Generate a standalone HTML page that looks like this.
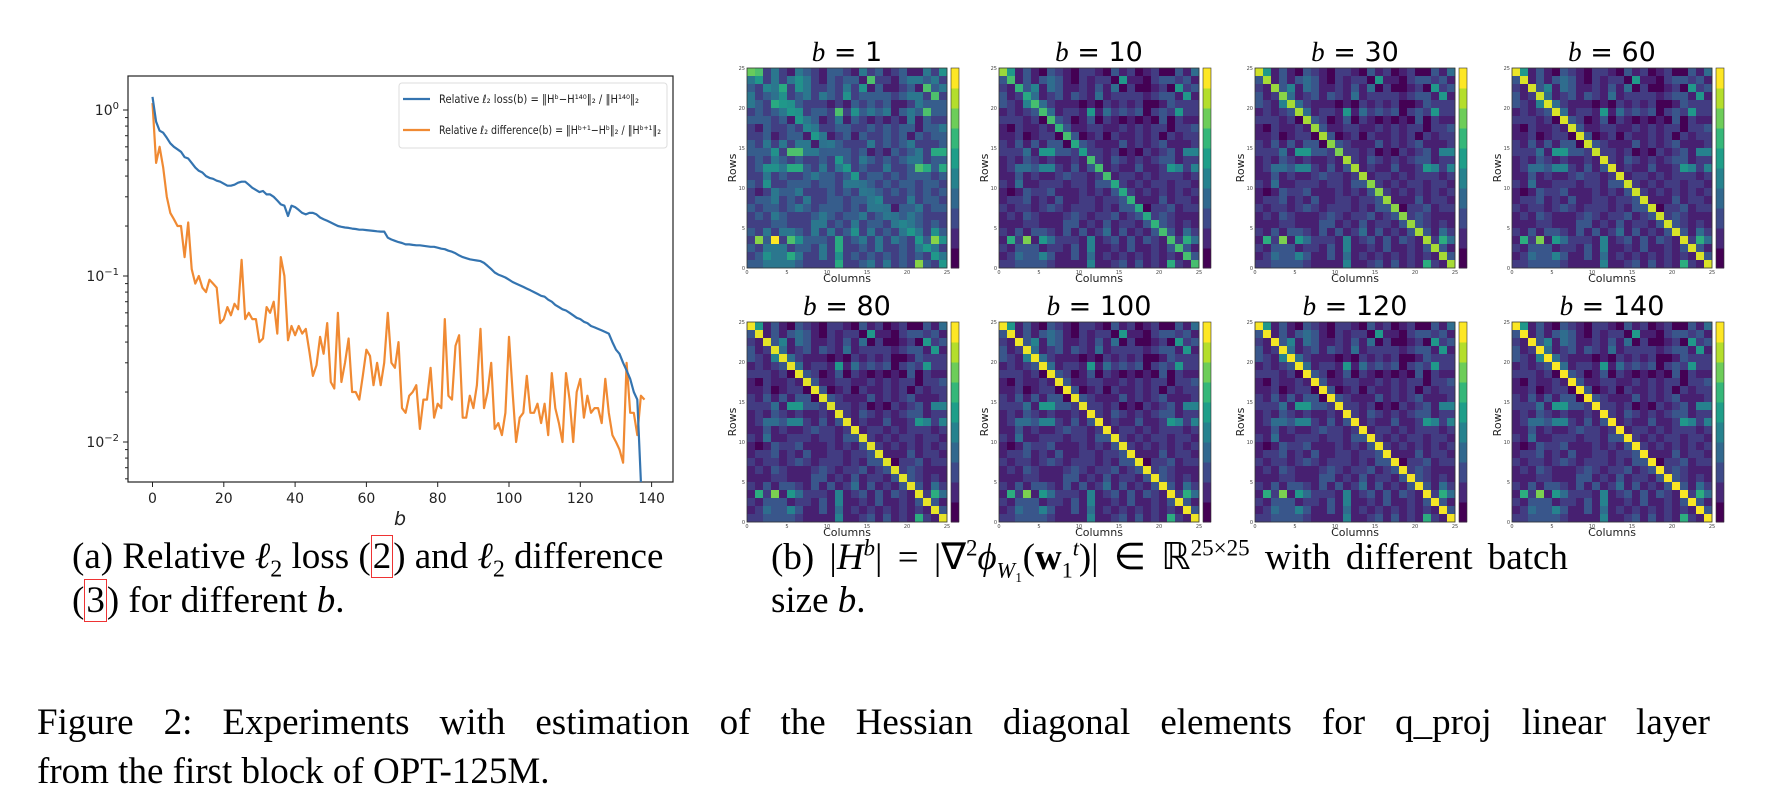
<!DOCTYPE html>
<html><head><meta charset="utf-8"><style>
body{margin:0;background:#fff;width:1772px;height:806px;position:relative;overflow:hidden;font-family:"Liberation Serif",serif;}
.cap{position:absolute;font-size:37px;color:#000;white-space:nowrap;}
svg text{font-family:"DejaVu Sans","Liberation Sans",sans-serif;}
.ref{border:1px solid #e33;padding:0 1px;}
</style></head><body>
<svg id="chart" width="1772" height="806" style="position:absolute;left:0;top:0"></svg>

<div class="cap" style="left:72px;top:535px;">(a) Relative <i>ℓ</i><sub style="font-size:24px">2</sub> loss (<span class="ref">2</span>) and <i>ℓ</i><sub style="font-size:24px">2</sub> difference</div>
<div class="cap" style="left:72px;top:579px;">(<span class="ref">3</span>) for different <i>b</i>.</div>
<div class="cap" style="left:771px;top:535px;word-spacing:6px">(b) |<i>H</i><sup style="font-size:23px"><i>b</i></sup>| = |∇<sup style="font-size:23px">2</sup><i>ϕ</i><sub style="font-size:22px"><i>W</i>₁</sub>(<b>w</b><sub style="font-size:22px">1</sub><sup style="font-size:22px"><i>t</i></sup>)| ∈ ℝ<sup style="font-size:23px">25×25</sup> with different batch</div>
<div class="cap" style="left:771px;top:579px;">size <i>b</i>.</div>
<div class="cap" style="left:37px;top:701px;width:1673px;text-align:justify;text-align-last:justify;white-space:normal">Figure 2: Experiments with estimation of the Hessian diagonal elements for q_proj linear layer</div>
<div class="cap" style="left:37px;top:750px;">from the first block of OPT-125M.</div>

<script>
const bVals=[];for(let i=0;i<=138;i++)bVals.push(i);
const lossVals=[1.2,0.85,0.75,0.73,0.68,0.63,0.6,0.58,0.56,0.52,0.51,0.48,0.45,0.43,0.42,0.4,0.39,0.385,0.375,0.37,0.36,0.35,0.35,0.355,0.365,0.37,0.37,0.355,0.34,0.33,0.32,0.325,0.31,0.31,0.3,0.285,0.27,0.265,0.23,0.265,0.26,0.25,0.24,0.235,0.24,0.24,0.235,0.225,0.22,0.215,0.21,0.205,0.2,0.198,0.196,0.195,0.193,0.192,0.19,0.19,0.189,0.188,0.187,0.186,0.185,0.185,0.17,0.166,0.163,0.16,0.158,0.155,0.155,0.154,0.153,0.153,0.152,0.151,0.15,0.15,0.148,0.146,0.145,0.142,0.14,0.137,0.133,0.13,0.128,0.126,0.125,0.124,0.123,0.12,0.115,0.11,0.105,0.102,0.1,0.098,0.095,0.092,0.09,0.088,0.086,0.084,0.082,0.08,0.078,0.076,0.075,0.072,0.07,0.067,0.065,0.063,0.062,0.06,0.058,0.056,0.055,0.053,0.052,0.05,0.049,0.048,0.047,0.046,0.045,0.04,0.036,0.034,0.03,0.027,0.024,0.02,0.018,0.0057];
const diffVals=[1.1,0.48,0.6,0.45,0.3,0.24,0.22,0.2,0.2,0.13,0.21,0.11,0.09,0.1,0.085,0.08,0.095,0.09,0.085,0.052,0.055,0.065,0.058,0.068,0.063,0.125,0.055,0.06,0.055,0.055,0.04,0.042,0.065,0.06,0.07,0.045,0.13,0.1,0.041,0.05,0.044,0.05,0.045,0.048,0.035,0.025,0.029,0.043,0.034,0.052,0.023,0.021,0.06,0.023,0.03,0.042,0.02,0.02,0.018,0.025,0.036,0.033,0.022,0.03,0.022,0.03,0.06,0.03,0.028,0.04,0.016,0.015,0.019,0.02,0.022,0.012,0.018,0.018,0.028,0.014,0.017,0.016,0.055,0.019,0.018,0.038,0.044,0.014,0.014,0.019,0.016,0.022,0.048,0.016,0.02,0.03,0.012,0.013,0.011,0.015,0.043,0.02,0.01,0.014,0.015,0.025,0.015,0.015,0.017,0.013,0.017,0.011,0.026,0.016,0.013,0.01,0.026,0.018,0.01,0.02,0.024,0.014,0.019,0.015,0.016,0.016,0.013,0.024,0.015,0.011,0.01,0.009,0.0075,0.03,0.015,0.015,0.011,0.019,0.018];
const xTicks=[0,20,40,60,80,100,120,140];
const yTicks=[0,-1,-2];
const panelTitles=["1","10","30","60","80","100","120","140"];
const diagStrength=[0.3,0.55,0.8,0.92,0.95,0.97,0.98,0.99];
const baseRows=[
"6613103210221031201200314",
"3313134310212206110233231",
"2123514311213140200120623",
"3121412313214122221233161",
"3215342111010212120013222",
"1212334122161423230232622",
"2221203320130210101030211",
"1021121231122112121220223",
"1120122033012021121202122",
"2131313301321113121231112",
"2224166332022120102123155",
"1213212112132132121233122",
"1244355213133121131126525",
"1131211232212312212122212",
"2141122212213312121221221",
"1013223111212131212121212",
"1223121311221223211131221",
"2122123212221213310223122",
"1213211123212231231232111",
"1112211133121312213232121",
"2131332131312413121333142",
"1729164222151231313213274",
"2133312213151121311213331",
"1243353113141212121212133",
"2233332111151123131217213"];
const NS='http://www.w3.org/2000/svg';
const svg=document.getElementById('chart');
function el(t,a){const e=document.createElementNS(NS,t);for(const k in a)e.setAttribute(k,a[k]);svg.appendChild(e);return e;}
const L=128,R=673,T=76,B=482;
const xs=v=>152.5+v*3.565;
const ys=v=>110-Math.log10(v)*166;
const frame=el('rect',{x:L,y:T,width:R-L,height:B-T,fill:'none',stroke:'#222','stroke-width':1.2});


xTicks.forEach(t=>{
 const l=el('line',{x1:xs(t),x2:xs(t),y1:B,y2:B+5,stroke:'#222'});
 
 
 const tx=el('text',{x:xs(t),y:B+21,'text-anchor':'middle','font-size':14,fill:'#222'});tx.textContent=t;
 
 
});
yTicks.forEach(p=>{
 const y=ys(Math.pow(10,p));
 const l=el('line',{x1:L-5,x2:L,y1:y,y2:y,stroke:'#222'});
 
 
 const tx=el('text',{x:L-9,y:y+5,'text-anchor':'end','font-size':14,fill:'#222'});
 tx.innerHTML='10<tspan dy="-6" font-size="10">'+(p===0?'0':'−'+(-p))+'</tspan>';
 
 
 for(let m=2;m<=9;m++){const v=m*Math.pow(10,p-1);const yy=ys(v);if(yy>T&&yy<B){const ml=el('line',{x1:L-3,x2:L,y1:yy,y2:yy,stroke:'#222'});
  
  }}
});
const xl=el('text',{x:400,y:525,'text-anchor':'middle','font-size':19,'font-style':'italic',fill:'#222'});xl.textContent='b';


function series(vals,color,name){
 const d=vals.map((v,i)=>(i?'L':'M')+xs(bVals[i]).toFixed(1)+','+Math.min(ys(v),B).toFixed(1)).join('');
 const p=el('path',{d:d,fill:'none',stroke:color,'stroke-width':2.2,'stroke-linejoin':'round'});
 
 
}
series(diffVals,'#f08a33','difference-line');
series(lossVals,'#3474b0','loss-line');
const lg=el('rect',{x:399,y:83,width:268,height:65,fill:'#fff',stroke:'#ddd',rx:3});


[['#3474b0',99],['#f08a33',130]].forEach((e,i)=>{
 const l=el('line',{x1:403,x2:430,y1:e[1],y2:e[1],stroke:e[0],'stroke-width':2.2});
 
 
 const t=el('text',{x:439,y:e[1]+4,'font-size':11.5,fill:'#222',textLength:i?222:200,lengthAdjust:'spacingAndGlyphs'});
 t.textContent=i?'Relative ℓ₂ difference(b) = ‖Hᵇ⁺¹−Hᵇ‖₂ / ‖Hᵇ⁺¹‖₂':'Relative ℓ₂ loss(b) = ‖Hᵇ−H¹⁴⁰‖₂ / ‖H¹⁴⁰‖₂';
 
 
});
const vir=[[68,1,84],[72,40,120],[62,74,137],[49,104,142],[38,130,142],[31,158,137],[53,183,121],[109,205,89],[180,222,44],[253,231,37]];
function cmap(v){v=Math.max(0,Math.min(1,v));const f=v*9,i=Math.min(8,Math.floor(f)),t=f-i;const a=vir[i],b=vir[i+1];return 'rgb('+a.map((c,k)=>Math.round(c+(b[k]-c)*t)).join(',')+')';}
const px=[747,999,1255,1512],py=[68,322],S=200,c=S/25;
panelTitles.forEach((title,p)=>{
 const x0=px[p%4],y0=py[Math.floor(p/4)],ds=diagStrength[p];
 const g=el('text',{x:x0+100,y:y0-7,'text-anchor':'middle','font-size':27,fill:'#000'});
 g.innerHTML='<tspan font-style="italic" font-family="Liberation Serif">b</tspan> = '+title;
 
 
 for(let r=0;r<25;r++)for(let k=0;k<25;k++){
  let v=parseInt(baseRows[r][k])/9;
  if(r===k) v=ds+(1-ds)*v;
  else if(p===0) v=v*0.95+0.08;
  else v=v*0.8;
  const rc=el('rect',{x:x0+k*c,y:y0+r*c,width:c+0.3,height:c+0.3,fill:cmap(v)});
  
  
 }
 const fr=el('rect',{x:x0,y:y0,width:S,height:S,fill:'none',stroke:'#333','stroke-width':0.8});
 
 
 for(let j=0;j<10;j++){const cb=el('rect',{x:x0+S+4,y:y0+S-(j+1)*S/10,width:8,height:S/10+0.5,fill:cmap(j/9)});
  
  }
 const cf=el('rect',{x:x0+S+4,y:y0,width:8,height:S,fill:'none',stroke:'#333','stroke-width':0.6});
 
 
 const rl=el('text',{x:x0-11,y:y0+100,'font-size':11,fill:'#222','text-anchor':'middle',transform:'rotate(-90 '+(x0-11)+' '+(y0+100)+')'});rl.textContent='Rows';
 
 
 const cl=el('text',{x:x0+100,y:y0+S+14,'font-size':11,fill:'#222','text-anchor':'middle'});cl.textContent='Columns';
 
 
 [0,5,10,15,20,25].forEach(t=>{
  const a=el('text',{x:x0+t*c,y:y0+S+6,'font-size':5,fill:'#444','text-anchor':'middle'});a.textContent=t;
  
  
  const b=el('text',{x:x0-2,y:y0+S-t*c+2,'font-size':5,fill:'#444','text-anchor':'end'});b.textContent=t;
  
  
 });
});
</script>
</body></html>
